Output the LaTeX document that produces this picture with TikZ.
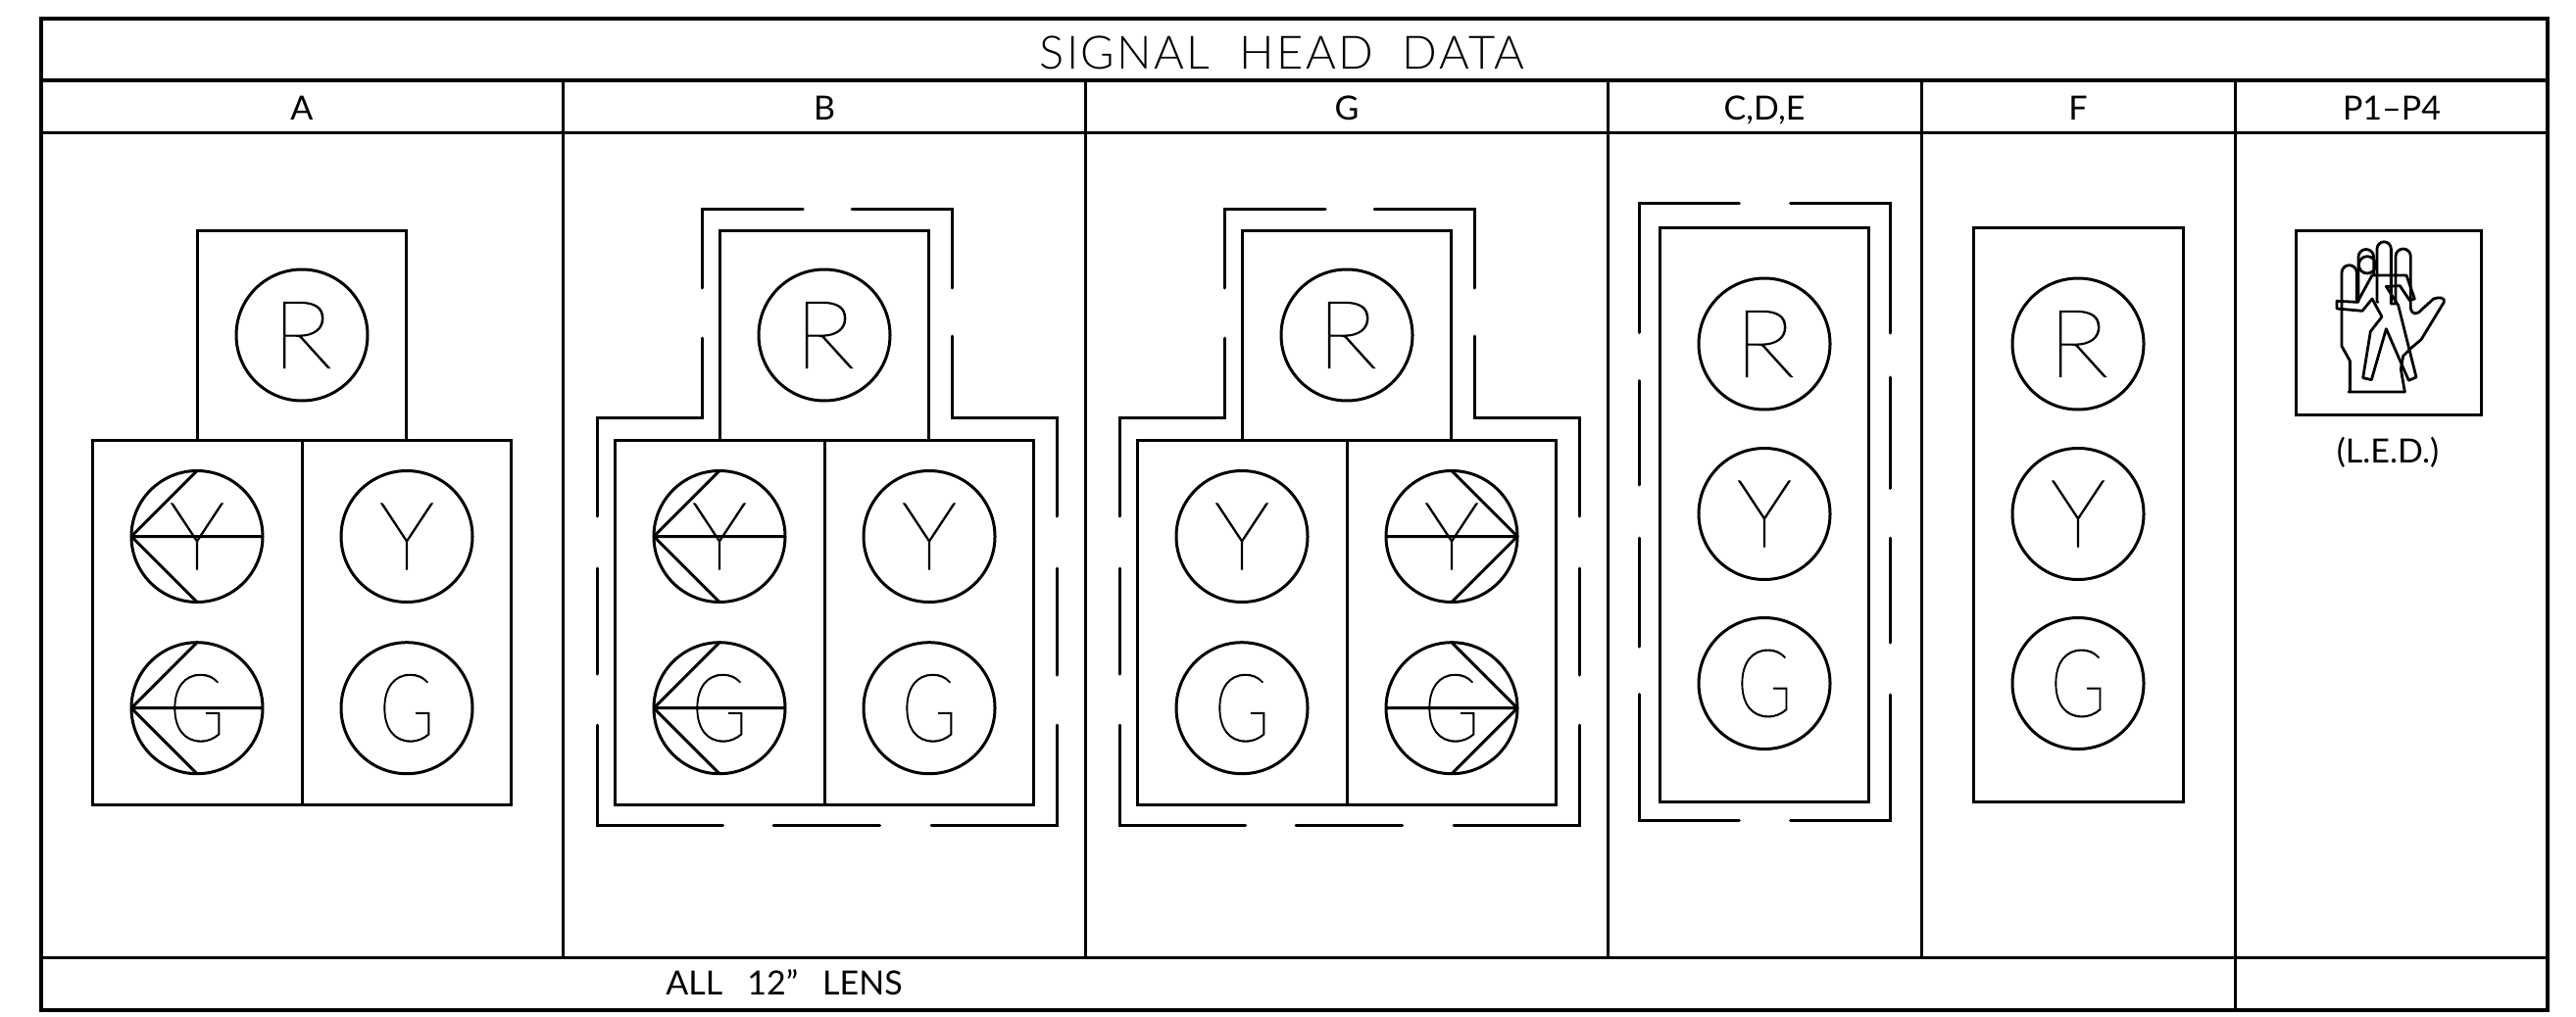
\documentclass[tikz,border=0pt]{standalone}
\usepackage{fontspec}
\setmainfont{Lato}
\newfontfamily\titlefont{Lato}[UprightFont=* Light,LetterSpace=5]
\newfontfamily\lensfont{Lato}[UprightFont=* Thin,FakeBold=1.2]
\tikzset{
  x=1pt,y=-1pt,
  frameline/.style={line width=3.4pt,line cap=butt,line join=miter},
  gridline/.style={line width=3pt},
  housing/.style={draw,line width=3pt,rectangle,inner sep=0pt,outer sep=0pt,anchor=north west},
  visor/.style={line width=3pt,line cap=round,line join=miter},
  lenscircle/.style={draw,circle,line width=3pt,inner sep=0pt,outer sep=0pt,minimum size=134pt,font=\lensfont\fontsize{96}{96}\selectfont},
  arrowline/.style={line width=3pt,line join=round},
  handline/.style={line width=2.8pt,line join=round,line cap=round},
  headtext/.style={inner sep=0pt,outer sep=0pt,text height=24.5pt,text depth=0pt,font=\fontsize{34}{34}\selectfont},
  titletext/.style={inner sep=0pt,outer sep=0pt,text height=34pt,text depth=0pt,font=\titlefont\fontsize{47}{47}\selectfont},
}
\newcommand{\letR}{\scalebox{1.08}[1]{R}}
\newcommand{\letY}{\scalebox{1.02}[1]{Y}}
\newcommand{\letG}{\scalebox{0.8}[1]{G}}
\newcommand{\lamp}[4]{\node[lenscircle] (#1) at (#2,#3) {#4};}
\newcommand{\leftarrowhead}[1]{\draw[arrowline] (#1.north) -- (#1.west) -- (#1.south) (#1.west) -- (#1.east);}
\newcommand{\rightarrowhead}[1]{\draw[arrowline] (#1.north) -- (#1.east) -- (#1.south) (#1.east) -- (#1.west);}
\newcommand{\boxat}[5]{\node[housing,minimum width=#4pt,minimum height=#5pt] (#1) at (#2,#3) {};}
\begin{document}
\begin{tikzpicture}
\useasboundingbox (0,0) rectangle (2628,1038);
\fill[white] (0,0) rectangle (2628,1038);
% table
\draw[frameline] (42,19) rectangle (2599,1031);
\draw[frameline] (42,82) -- (2599,82);
\draw[gridline] (42,136) -- (2599,136);
\draw[gridline] (42,977) -- (2599,977);
\foreach \c in {574.5,1107.5,1640.5,1960.5}{\draw[gridline] (\c,82) -- (\c,977);}
\draw[gridline] (2280,82) -- (2280,1031);
\node[titletext] (title) at (1308,53.7) {SIGNAL\hspace{30pt}HEAD\hspace{30pt}DATA};
\node[headtext] (hA) at (308,110) {A};
\node[headtext] (hB) at (841,110) {B};
\node[headtext] (hG) at (1374,110) {G};
\node[headtext] (hC) at (1800,110) {C,D,E};
\node[headtext] (hF) at (2120,110) {F};
\node[headtext] (hP) at (2440,110) {P1--P4};
\node[headtext] (foot) at (800,1003) {ALL\hspace{25pt}12”\hspace{25pt}LENS};
% heads A B G
\foreach \n/\cx in {a/308,b/841,g/1374}{
  \boxat{\n top}{\cx-107}{235}{213.5}{214}
  \boxat{\n low}{\cx-213.5}{449}{427}{372}
  \draw[gridline] (\cx,449) -- (\cx,821);
  \lamp{\n R}{\cx}{342}{\letR}
}
\lamp{aY}{201}{547.5}{\letY}\lamp{aG}{201}{722.7}{\letG}
\lamp{aY2}{415}{547.5}{\letY}\lamp{aG2}{415}{722.7}{\letG}
\lamp{bY}{734}{547.5}{\letY}\lamp{bG}{734}{722.7}{\letG}
\lamp{bY2}{948}{547.5}{\letY}\lamp{bG2}{948}{722.7}{\letG}
\lamp{gY}{1267}{547.5}{\letY}\lamp{gG}{1267}{722.7}{\letG}
\lamp{gY2}{1481}{547.5}{\letY}\lamp{gG2}{1481}{722.7}{\letG}
\leftarrowhead{aY}\leftarrowhead{aG}\leftarrowhead{bY}\leftarrowhead{bG}
\rightarrowhead{gY2}\rightarrowhead{gG2}
% visors B and G
\foreach \d in {0,533}{
 \begin{scope}[xshift=\d pt]
 \draw[visor] (819,213.5) -- (716,213.5) -- (716,294);
 \draw[visor] (716,345) -- (716,426.5) -- (609,426.5) -- (609,527);
 \draw[visor] (609,580) -- (609,688);
 \draw[visor] (609,740) -- (609,842) -- (737.5,842);
 \draw[visor] (789,842) -- (897.5,842);
 \draw[visor] (950,842) -- (1078,842) -- (1078,740);
 \draw[visor] (1078,689) -- (1078,580);
 \draw[visor] (1078,527) -- (1078,426.5) -- (971.7,426.5) -- (971.7,343);
 \draw[visor] (971.7,294) -- (971.7,213.5) -- (869,213.5);
 \end{scope}
}
% C,D,E
\boxat{cbox}{1693.7}{232}{213}{586}
\lamp{cR}{1800}{351}{\letR}\lamp{cY}{1800}{524.5}{\letY}\lamp{cG}{1800}{697.5}{\letG}
\draw[visor] (1774.3,207.7) -- (1672.7,207.7) -- (1672.7,339.5);
\draw[visor] (1672.7,388.7) -- (1672.7,495);
\draw[visor] (1672.7,549) -- (1672.7,660);
\draw[visor] (1672.7,708.5) -- (1672.7,837) -- (1774.3,837);
\draw[visor] (1826.7,837) -- (1928.3,837) -- (1928.3,709);
\draw[visor] (1928.3,656) -- (1928.3,549);
\draw[visor] (1928.3,498.5) -- (1928.3,385);
\draw[visor] (1928.3,340) -- (1928.3,207.7) -- (1826.7,207.7);
% F
\boxat{fbox}{2013}{232}{214}{586}
\lamp{fR}{2120}{351}{\letR}\lamp{fY}{2120}{524.5}{\letY}\lamp{fG}{2120}{697.5}{\letG}
% P1-P4
\boxat{pbox}{2342.7}{235}{188.5}{188}
\node[headtext] (led) at (2436,460) {(L.E.D.)};
\begin{scope}[shift={(2300,200)},x=0.3333pt,y=-0.3333pt]
 \draw[handline] (288,600) -- (460,600) (292,600) -- (292,505) -- (267,460) -- (267,235)
   arc[start angle=180,end angle=360,radius=23] -- (313,325);
 \draw[handline] (318,325) -- (318,187) arc[start angle=180,end angle=360,radius=23.5] -- (365,243);
 \draw[handline] (378,325) -- (375,325) -- (375,162) arc[start angle=180,end angle=360,radius=21.5] -- (418,330) -- (432,330) -- (432,185)
   arc[start angle=180,end angle=360,radius=23] -- (478,345)
   .. controls (482,362) and (495,368) .. (515,345) -- (548,315)
   .. controls (565,308) and (585,312) .. (580,325) -- (510,440) -- (480,465) -- (455,490) -- (448,530) -- (460,600);
 \draw[handline] (345,211) circle[radius=26];
 \draw[handline] (315,325) -- (252,322) -- (252,345) -- (330,352) -- (360,315) -- (390,370) -- (355,415) -- (332,557) -- (358,563) -- (403,407) -- (472,565) -- (495,555) -- (440,335) -- (403,277) -- (445,275) -- (475,320) -- (490,315) -- (465,243) -- (360,243) -- cycle;
\end{scope}
\end{tikzpicture}
\end{document}
